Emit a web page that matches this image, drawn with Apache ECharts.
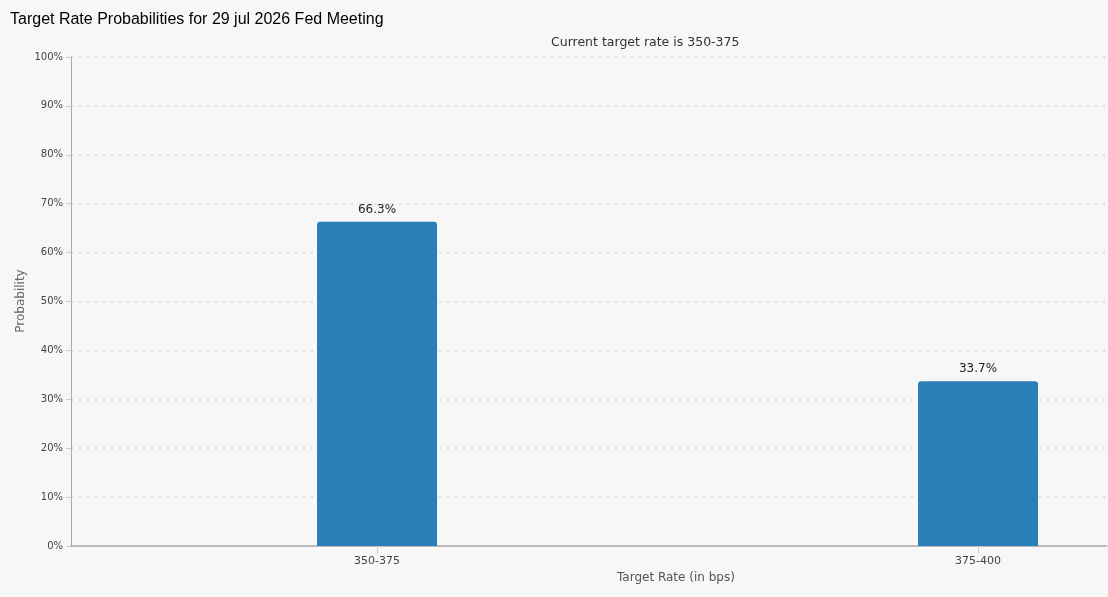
<!DOCTYPE html>
<html>
<head>
    <meta charset="UTF-8"/>
    <title>Target Rate Probabilities</title>
    <script type="text/javascript" src="https://cdn.jsdelivr.net/npm/echarts@6/dist/echarts.min.js"></script>
    <style>
        html, body { margin: 0; padding: 0; background: #f7f7f7; }
        #chart { width: 1108px; height: 597px; }
    </style>
</head>
<body>
<div id="chart"></div>
<script>
    // data
    var categories = ['350-375', '375-400'];
    var probabilities = [66.3, 33.7];
    var yTicks = [0, 10, 20, 30, 40, 50, 60, 70, 80, 90, 100];

    var axisFont = 'DejaVu Sans';
    var barData = categories.map(function (c, i) { return [i, probabilities[i]]; });
    var catIdx = categories.map(function (c, i) { return i; });

    var chart = echarts.init(document.getElementById('chart'));
    chart.setOption({
        backgroundColor: '#f7f7f7',
        animation: false,
        title: {
            text: 'Target Rate Probabilities for 29 jul 2026 Fed Meeting',
            left: 5,
            top: 7,
            textStyle: { fontFamily: 'Liberation Sans', fontSize: 16, fontWeight: 'normal', color: '#000' }
        },
        graphic: [
            {
                type: 'text', left: 551, top: 36,
                style: { text: 'Current target rate is 350-375', font: '12.5px "DejaVu Sans"', fill: '#333' }
            },
            {
                type: 'text', left: 617, top: 572,
                style: { text: 'Target Rate (in bps)', font: '12px "DejaVu Sans"', fill: '#555' }
            },
            {
                // y axis title, rotated
                type: 'text', x: 21, y: 301, rotation: Math.PI / 2,
                style: { text: 'Probability', font: '12px "DejaVu Sans"', fill: '#666', align: 'center', verticalAlign: 'middle' }
            }
        ],
        grid: { left: 71, right: 1, top: 57, bottom: 51 },
        xAxis: {
            type: 'value',
            min: -0.5092,
            max: 1.2146,
            axisLine: { show: true, onZero: false, lineStyle: { color: '#aaa', width: 1.5 } },
            axisTick: { show: true, customValues: catIdx, length: 8, lineStyle: { color: '#ccc' } },
            axisLabel: {
                customValues: catIdx,
                formatter: function (v) { return categories[Math.round(v)]; },
                fontFamily: axisFont, fontSize: 11, color: '#444', margin: 10
            },
            splitLine: { show: false }
        },
        yAxis: {
            type: 'value',
            min: yTicks[0],
            max: yTicks[yTicks.length - 1],
            interval: 10,
            axisLine: { show: true, onZero: false, lineStyle: { color: '#aaa' } },
            axisTick: { show: true, length: 5, lineStyle: { color: '#ccc' } },
            axisLabel: { formatter: '{value}%', fontFamily: axisFont, fontSize: 10, color: '#444', margin: 8 },
            splitLine: { show: true, lineStyle: { color: '#dedede', width: 2, type: [2, 6] } }
        },
        series: [{
            type: 'bar',
            data: barData,
            barWidth: 120,
            itemStyle: { color: '#2a7fb8', borderRadius: [3, 3, 0, 0] },
            label: {
                show: true,
                position: 'top',
                distance: 6,
                formatter: function (p) { return p.value[1].toFixed(1) + '%'; },
                fontFamily: axisFont, fontSize: 12, color: '#222'
            }
        }]
    });
</script>
</body>
</html>
